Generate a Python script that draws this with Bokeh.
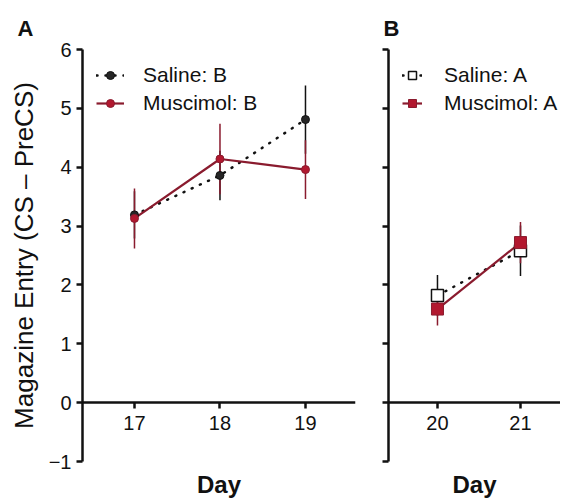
from bokeh.plotting import figure
from bokeh.layouts import row
from bokeh.models import ColumnDataSource, Range1d, FixedTicker, Title, LinearAxis
from bokeh.embed import file_html
from bokeh.resources import INLINE

# ---- data ----
days_a = [17, 18, 19]
saline_b = [3.19, 3.86, 4.81]
saline_b_err = [0.40, 0.42, 0.58]
musc_b = [3.13, 4.14, 3.96]
musc_b_err = [0.51, 0.60, 0.50]

days_b = [20, 21]
saline_a = [1.82, 2.58]
saline_a_err = [0.35, 0.43]
musc_a = [1.59, 2.72]
musc_a_err = [0.28, 0.35]

y_ticks = [-1, 0, 1, 2, 3, 4, 5, 6]

FONT = "Liberation Sans"
RED_LINE = "#8A1B2E"
RED_FILL = "#B2182F"
BLACK = "#111111"


def src(days, vals, errs):
    return ColumnDataSource(dict(
        x=days, y=vals,
        lo=[v - e for v, e in zip(vals, errs)],
        hi=[v + e for v, e in zip(vals, errs)],
    ))


def make_fig(width, bl, br, xr, days, show_ylabels):
    p = figure(width=width, height=500, x_range=Range1d(*xr), y_range=Range1d(-1, 6),
               output_backend="svg", toolbar_location=None,
               min_border_left=bl, min_border_right=br,
               min_border_top=49, min_border_bottom=39)
    p.grid.visible = False
    p.outline_line_color = None
    p.background_fill_color = "white"
    p.border_fill_color = "white"

    # x axis drawn at y = 0
    xa = p.xaxis[0]
    xa.fixed_location = 0
    xa.ticker = FixedTicker(ticks=days)
    xa.minor_tick_line_color = None
    xa.axis_line_width = 2.5
    xa.axis_line_color = BLACK
    xa.major_tick_line_width = 2.5
    xa.major_tick_line_color = BLACK
    xa.major_tick_out = 6
    xa.major_tick_in = 0
    xa.major_label_text_font = FONT
    xa.major_label_text_font_size = "20px"
    xa.major_label_text_color = BLACK
    xa.major_label_standoff = 7

    # "Day" title axis at the bottom
    day_axis = LinearAxis(ticker=FixedTicker(ticks=[]), axis_label="Day",
                          axis_line_color=None, major_tick_line_color=None,
                          minor_tick_line_color=None, major_tick_out=0, minor_tick_out=0,
                          major_tick_in=0, minor_tick_in=0, major_label_standoff=0,
                          axis_label_standoff=9, axis_label_text_font=FONT,
                          axis_label_text_font_size="24px",
                          axis_label_text_font_style="bold",
                          axis_label_text_color=BLACK)
    p.add_layout(day_axis, "below")

    ya = p.yaxis[0]
    ya.ticker = FixedTicker(ticks=y_ticks)
    ya.minor_tick_line_color = None
    ya.axis_line_width = 2.5
    ya.axis_line_color = BLACK
    ya.major_tick_line_width = 2.5
    ya.major_tick_line_color = BLACK
    ya.major_tick_out = 6
    ya.major_tick_in = 0
    ya.major_label_text_font = FONT
    ya.major_label_text_font_size = "20px"
    ya.major_label_text_color = BLACK
    if show_ylabels:
        ya.major_label_overrides = {-1: "\u22121"}
        ya.major_label_standoff = 5
        ya.axis_label = "Magazine Entry (CS \u2013 PreCS)"
        ya.axis_label_text_font = FONT
        ya.axis_label_text_font_size = "26px"
        ya.axis_label_text_font_style = "normal"
        ya.axis_label_text_color = BLACK
        ya.axis_label_standoff = 7
    else:
        ya.major_label_overrides = {t: "" for t in y_ticks}
        ya.major_label_standoff = 0

    return p


def style_legend(p, glyph_w, standoff):
    lg = p.legend[0]
    lg.location = "top_left"
    lg.border_line_color = None
    lg.background_fill_alpha = 0
    lg.label_text_font = FONT
    lg.label_text_font_size = "21px"
    lg.label_text_color = BLACK
    lg.glyph_width = glyph_w
    lg.glyph_height = 20
    lg.label_standoff = standoff
    lg.spacing = 4
    lg.margin = 14
    lg.padding = 2


DOT = "1 8"

# ---------------- Panel A ----------------
pa = make_fig(370, 82, 15, (16.392, 19.585), days_a, True)
pa.add_layout(Title(text="A", align="left", offset=-65, standoff=17, text_font=FONT,
                    text_font_size="22px", text_font_style="bold",
                    text_color=BLACK), "above")

s_sal = src(days_a, saline_b, saline_b_err)
s_mus = src(days_a, musc_b, musc_b_err)

pa.segment(x0="x", y0="lo", x1="x", y1="hi", source=s_sal, line_color=BLACK, line_width=1.5)
pa.segment(x0="x", y0="lo", x1="x", y1="hi", source=s_mus, line_color=RED_LINE, line_width=1.5)
pa.line("x", "y", source=s_sal, line_color=BLACK, line_width=2.5, line_dash=DOT,
        line_cap="round", legend_label="Saline: B")
pa.line("x", "y", source=s_mus, line_color=RED_LINE, line_width=2.2,
        legend_label="Muscimol: B")
pa.scatter("x", "y", source=s_sal, marker="circle", size=8, fill_color="#262626",
           line_color=BLACK, line_width=1, legend_label="Saline: B")
pa.scatter("x", "y", source=s_mus, marker="circle", size=8, fill_color=RED_FILL,
           line_color=RED_LINE, line_width=1, legend_label="Muscimol: B")
style_legend(pa, 28, 19)

# ---------------- Panel B ----------------
pb = make_fig(190, 18, 0, (19.41, 21.482), days_b, False)
pb.add_layout(Title(text="B", align="left", offset=-5, standoff=17, text_font=FONT,
                    text_font_size="22px", text_font_style="bold",
                    text_color=BLACK), "above")

t_sal = src(days_b, saline_a, saline_a_err)
t_mus = src(days_b, musc_a, musc_a_err)

pb.segment(x0="x", y0="lo", x1="x", y1="hi", source=t_sal, line_color=BLACK, line_width=1.5)
pb.segment(x0="x", y0="lo", x1="x", y1="hi", source=t_mus, line_color=RED_LINE, line_width=1.5)
pb.line("x", "y", source=t_sal, line_color=BLACK, line_width=2.5, line_dash=DOT,
        line_cap="round", legend_label="Saline: A")
pb.line("x", "y", source=t_mus, line_color=RED_LINE, line_width=2.2,
        legend_label="Muscimol: A")
pb.scatter("x", "y", source=t_sal, marker="square", size=12, fill_color="white",
           line_color=BLACK, line_width=1.5, legend_label="Saline: A")
pb.scatter("x", "y", source=t_mus, marker="square", size=12, fill_color=RED_FILL,
           line_color=RED_LINE, line_width=1, legend_label="Muscimol: A")
style_legend(pb, 20, 22)

layout = row(pa, pb)
open("out.html", "w").write(file_html(layout, INLINE))
